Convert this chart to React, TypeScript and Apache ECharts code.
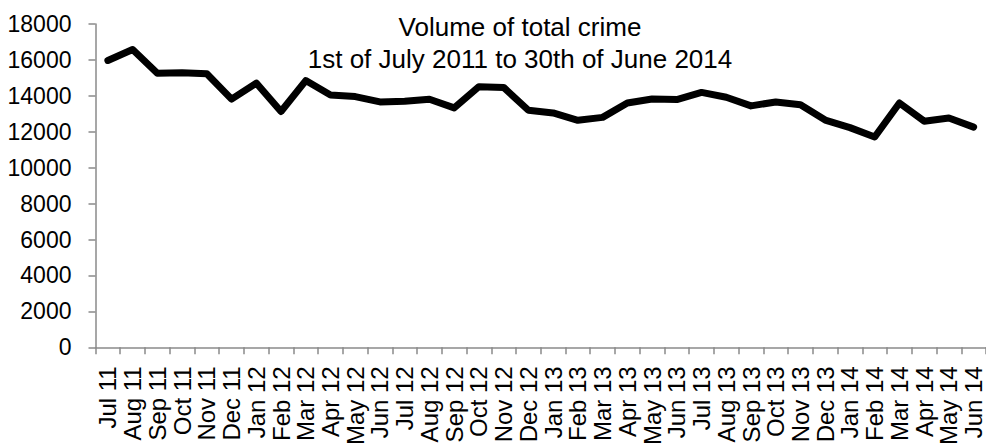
import React, { useEffect, useRef } from "react";
import * as echarts from "echarts";

const months = [
  "Jul 11", "Aug 11", "Sep 11", "Oct 11", "Nov 11", "Dec 11",
  "Jan 12", "Feb 12", "Mar 12", "Apr 12", "May 12", "Jun 12",
  "Jul 12", "Aug 12", "Sep 12", "Oct 12", "Nov 12", "Dec 12",
  "Jan 13", "Feb 13", "Mar 13", "Apr 13", "May 13", "Jun 13",
  "Jul 13", "Aug 13", "Sep 13", "Oct 13", "Nov 13", "Dec 13",
  "Jan 14", "Feb 14", "Mar 14", "Apr 14", "May 14", "Jun 14",
];

const totalCrime = [
  15970, 16580, 15260, 15290, 15230, 13820,
  14710, 13130, 14850, 14050, 13960, 13660,
  13700, 13810, 13330, 14510, 14470, 13200,
  13050, 12640, 12800, 13600, 13820, 13790,
  14190, 13920, 13440, 13660, 13500, 12650,
  12230, 11710, 13600, 12590, 12770, 12260,
];

const titleLines = ["Volume of total crime", "1st of July 2011 to 30th of June 2014"];

export default function App() {
  const ref = useRef<HTMLDivElement>(null);
  useEffect(() => {
    if (!ref.current) return;
    const chart = echarts.init(ref.current, undefined, { renderer: "svg" });
    const axisColor = "#8a8a8a";
    chart.setOption({
      animation: false,
      backgroundColor: "#ffffff",
      title: {
        text: titleLines.join("\n"),
        left: 515,
        top: 6,
        textAlign: "center",
        textStyle: {
          fontFamily: "'Liberation Sans', Arial, sans-serif",
          fontSize: 26,
          fontWeight: "normal",
          color: "#000",
          lineHeight: 32,
        },
      },
      grid: { left: 95.5, right: -4.5, top: 24, bottom: 99, containLabel: false },
      xAxis: {
        type: "category",
        data: months,
        boundaryGap: true,
        axisLine: { lineStyle: { color: axisColor, width: 1.5 } },
        axisTick: { show: true, length: 7, alignWithLabel: false, interval: 0, lineStyle: { color: axisColor, width: 1.5 } },
        axisLabel: {
          interval: 0,
          rotate: 90,
          margin: 19,
          fontFamily: "'Liberation Sans', Arial, sans-serif",
          fontSize: 24,
          color: "#000",
        },
        splitLine: { show: false },
      },
      yAxis: {
        type: "value",
        min: 0,
        max: 18000,
        interval: 2000,
        axisLine: { show: true, lineStyle: { color: axisColor, width: 1.5 } },
        axisTick: { show: true, length: 7, lineStyle: { color: axisColor, width: 1.5 } },
        axisLabel: {
          margin: 24,
          formatter: (v: number) => String(v),
          fontFamily: "'Liberation Sans Narrow', 'Arial Narrow', 'Liberation Sans', sans-serif",
          fontSize: 23,
          color: "#000",
        },
        splitLine: { show: false },
      },
      series: [
        {
          type: "line",
          data: totalCrime,
          symbol: "none",
          lineStyle: { color: "#000", width: 7, cap: "round", join: "round" },
        },
      ],
    });
    return () => chart.dispose();
  }, []);
  return (
    <div
      ref={ref}
      style={{ position: "fixed", left: 0, top: 0, width: 986, height: 448 }}
    />
  );
}
